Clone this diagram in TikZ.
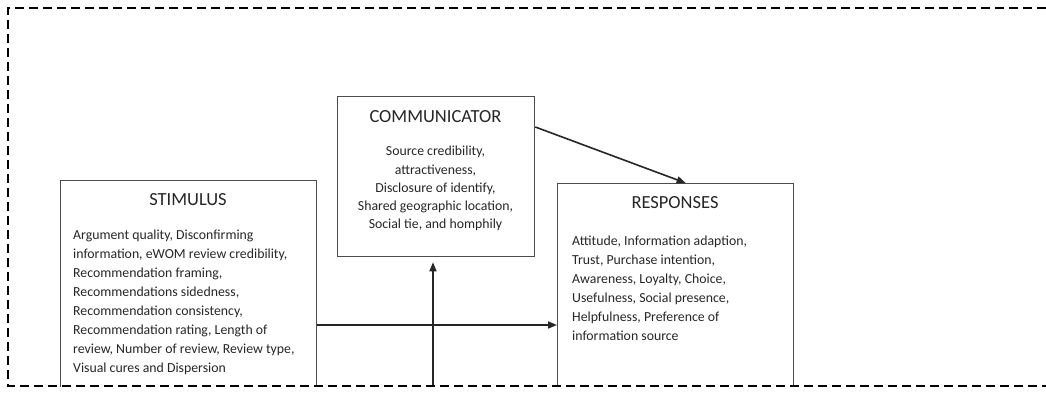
\documentclass[tikz,border=0pt]{standalone}
\usepackage{fontspec}
\setmainfont{Carlito}
\usetikzlibrary{arrows.meta,calc}
\begin{document}
\begin{tikzpicture}[x=1pt,y=1pt,
 box/.style={draw=black!70,line width=1.3pt,inner sep=0pt,anchor=north west},
 ttl/.style={font=\fontsize{18.5}{22}\selectfont, text=black!85, inner sep=0pt},
 body/.style={font=\fontsize{13.8}{19}\selectfont, text=black!85, align=left, inner sep=0pt, anchor=north west},
 cbody/.style={font=\fontsize{13.8}{18.3}\selectfont, text=black!85, align=center, inner sep=0pt, anchor=north},
 arr/.style={draw=black!85,line width=1.6pt,-{Triangle[length=9pt,width=7pt]}},
 frame/.style={draw=black,line width=1.6pt,dash pattern=on 9pt off 5pt}]
\useasboundingbox (0,0) rectangle (1046,-394);
\begin{scope}
\clip (0,0) rectangle (1046,-386);
\node[box,minimum width=256pt,minimum height=260pt] (stim) at (60,-180) {};
\node[box,minimum width=197pt,minimum height=160pt] (comm) at (337,-96) {};
\node[box,minimum width=236pt,minimum height=260pt] (resp) at (557,-183) {};
\end{scope}
\node[ttl] (stimt) at (188,-200) {STIMULUS};
\node[ttl] (commt) at (435.5,-117) {COMMUNICATOR};
\node[ttl] (respt) at (675,-203) {RESPONSES};
\node[body] (stimb) at (73,-230) {Argument quality, Disconfirming\\information, eWOM review credibility,\\Recommendation framing,\\Recommendations sidedness,\\Recommendation consistency,\\Recommendation rating, Length of\\review, Number of review, Review type,\\Visual cures and Dispersion};
\node[cbody] (commb) at (435.5,-146) {Source credibility,\\attractiveness,\\Disclosure of identify,\\Shared geographic location,\\Social tie, and homphily};
\node[body] (respb) at (572,-236) {Attitude, Information adaption,\\Trust, Purchase intention,\\Awareness, Loyalty, Choice,\\Usefulness, Social presence,\\Helpfulness, Preference of\\information source};
\coordinate (src) at (433,-386);
\draw[arr] ($(comm.north east)+(0,-31)$) -- ($(resp.north)+(10,0)$);
\draw[arr] ($(stim.north east)+(0,-145)$) -- ($(resp.west)!($(stim.north east)+(0,-145)$)!(resp.north west)$);
\draw[arr,shorten >=5pt] (src) -- (src |- comm.south);
\begin{scope}
\clip (0,0) rectangle (1046,-394);
\draw[frame] (1060,-8) -- (8,-8) -- (8,-386) -- (1060,-386);
\end{scope}
\end{tikzpicture}
\end{document}
